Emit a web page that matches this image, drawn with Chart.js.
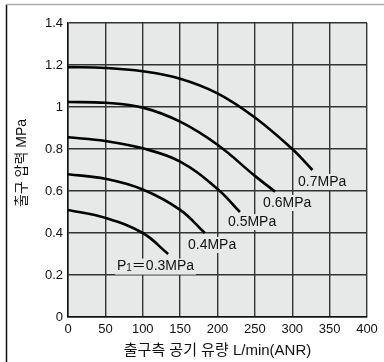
<!DOCTYPE html>
<html>
<head>
<meta charset="utf-8">
<script src="https://cdn.jsdelivr.net/npm/chart.js@4"></script>
<style>
html,body{margin:0;padding:0;background:#fff;}
#wrap{width:384px;height:362px;position:relative;}
</style>
</head>
<body>
<div id="wrap"><canvas id="c" width="384" height="362"></canvas></div>
<script>
// Data
const xTicks = [0, 50, 100, 150, 200, 250, 300, 350, 400];
const yTicks = [0, 0.2, 0.4, 0.6, 0.8, 1, 1.2, 1.4];

const flow07 = [0, 50, 100, 150, 200, 250, 300, 327];
const pres07 = [1.19, 1.186, 1.17, 1.135, 1.065, 0.95, 0.80, 0.70];

const flow06 = [0, 50, 100, 150, 200, 250, 277];
const pres06 = [1.024, 1.02, 0.997, 0.93, 0.82, 0.672, 0.597];

const flow05 = [0, 50, 100, 150, 200, 230];
const pres05 = [0.856, 0.838, 0.803, 0.74, 0.61, 0.50];

const flow04 = [0, 50, 100, 150, 183];
const pres04 = [0.68, 0.658, 0.607, 0.51, 0.40];

const flow03 = [0, 50, 100, 134];
const pres03 = [0.51, 0.472, 0.40, 0.30];

const seriesLabels = ['0.7MPa', '0.6MPa', '0.5MPa', '0.4MPa', '0.3MPa'];
// label anchor (left edge, vertical middle) in data units
const labelX = [307.7, 261, 214, 160.5, 65.5];
const labelY = [0.643, 0.543, 0.452, 0.343, 0.24];

const xTitle = '출구측 공기 유량 L/min(ANR)';
const yTitle = '출구 압력 MPa';

function pts(xs, ys){ return xs.map((x,i)=>({x:x, y:ys[i]})); }

const FONT = '"Liberation Sans", Arial, "Noto Sans CJK KR", sans-serif';

const bgPlugin = {
  id:'bg',
  beforeDraw(chart){
    const {ctx, chartArea:a} = chart;
    ctx.save();
    ctx.fillStyle = '#e7e8e8';
    ctx.fillRect(a.left, a.top, a.right-a.left, a.bottom-a.top);
    ctx.restore();
  },
  afterDatasetsDraw(chart){
    const ctx = chart.ctx;
    const xs = chart.scales.x, ys = chart.scales.y;
    ctx.save();
    ctx.textBaseline = 'middle';
    ctx.textAlign = 'left';
    for (let i=0;i<seriesLabels.length;i++){
      const px = xs.getPixelForValue(labelX[i]);
      const py = ys.getPixelForValue(labelY[i]);
      ctx.font = '14px ' + FONT;
      let w;
      if (i === 4) {
        const wP = ctx.measureText('P').width;
        ctx.font = '10px ' + FONT;
        const w1 = ctx.measureText('1').width;
        ctx.font = '14px ' + FONT;
        const rest = '＝' + seriesLabels[i];
        const wR = ctx.measureText(rest).width;
        w = wP + w1 + wR;
        ctx.fillStyle = '#e7e8e8';
        ctx.fillRect(px-2, py-8, w+4, 16);
        ctx.fillStyle = '#111';
        ctx.fillText('P', px, py);
        ctx.font = '10px ' + FONT;
        ctx.fillText('1', px+wP, py+2);
        ctx.font = '14px ' + FONT;
        ctx.fillText(rest, px+wP+w1, py);
      } else {
        w = ctx.measureText(seriesLabels[i]).width;
        ctx.fillStyle = '#e7e8e8';
        ctx.fillRect(px-2, py-8, w+4, 16);
        ctx.fillStyle = '#111';
        ctx.fillText(seriesLabels[i], px, py);
      }
    }
    ctx.restore();
  },
  afterDraw(chart){
    const {ctx, chartArea:a} = chart;
    ctx.save();
    ctx.strokeStyle = '#aaaaaa';
    ctx.lineWidth = 1.5;
    ctx.beginPath(); ctx.moveTo(6, 4.5); ctx.lineTo(384, 4.5); ctx.stroke();
    ctx.strokeStyle = '#111';
    ctx.beginPath(); ctx.moveTo(6.5, 5); ctx.lineTo(6.5, 362); ctx.stroke();
    ctx.fillStyle = '#111';
    ctx.font = '15px ' + FONT;
    ctx.textAlign = 'center';
    ctx.textBaseline = 'middle';
    ctx.fillText(xTitle, (a.left+a.right)/2, 351);
    ctx.translate(22, 163);
    ctx.rotate(-Math.PI/2);
    ctx.font = '14px ' + FONT;
    ctx.fillText(yTitle, 0, 0);
    ctx.restore();
  }
};

const ds = (xs, ys) => ({
  data: pts(xs, ys),
  borderColor:'#000',
  borderWidth:2.6,
  pointRadius:0,
  fill:false,
  tension:0.4
});

new Chart(document.getElementById('c'), {
  type:'line',
  data:{ datasets:[
    ds(flow07, pres07), ds(flow06, pres06), ds(flow05, pres05), ds(flow04, pres04), ds(flow03, pres03)
  ]},
  options:{
    responsive:false,
    animation:false,
    devicePixelRatio:1,
    layout:{ padding:{ left:0, top:23, right:17, bottom:0 } },
    plugins:{ legend:{display:false}, tooltip:{enabled:false} },
    scales:{
      x:{
        type:'linear', min:0, max:400,
        afterBuildTicks(s){ s.ticks = xTicks.map(v=>({value:v})); },
        afterFit(s){ s.height = 45; },
        grid:{ color:'#333', lineWidth:1.4, drawTicks:false },
        border:{ color:'#111', width:1.5 },
        ticks:{ font:{size:13, family:FONT}, color:'#111', padding:5, maxRotation:0 }
      },
      y:{
        type:'linear', min:0, max:1.4,
        afterBuildTicks(s){ s.ticks = yTicks.map(v=>({value:v})); },
        afterFit(s){ s.width = 68; },
        grid:{ color:'#333', lineWidth:1.4, drawTicks:false },
        border:{ color:'#111', width:1.5 },
        ticks:{ font:{size:13, family:FONT}, color:'#111', padding:5,
          callback:(v)=> String(v) }
      }
    }
  },
  plugins:[bgPlugin]
});
</script>
</body>
</html>
